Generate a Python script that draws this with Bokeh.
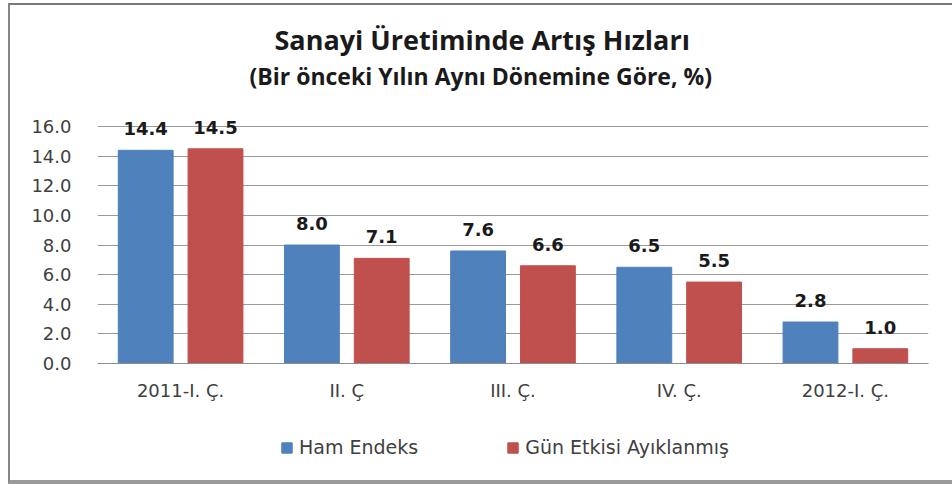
from bokeh.plotting import figure
from bokeh.layouts import column
from bokeh.models import (ColumnDataSource, FactorRange, Legend, LegendItem, LabelSet, Title,
                          NumeralTickFormatter, FixedTicker, Range1d, InlineStyleSheet)
from bokeh.core.properties import value
from bokeh.transform import dodge
from bokeh.embed import file_html
from bokeh.resources import INLINE

categories = ["2011-I. Ç.", "II. Ç", "III. Ç.", "IV. Ç.", "2012-I. Ç."]
ham_endeks = [14.4, 8.0, 7.6, 6.5, 2.8]
gun_etkisi = [14.5, 7.1, 6.6, 5.5, 1.0]
series_names = ["Ham Endeks", "Gün Etkisi Ayıklanmış"]
y_ticks = [0, 2, 4, 6, 8, 10, 12, 14, 16]

BLUE, RED = "#4F81BD", "#C0504D"
lab_font = "DejaVu Sans"

src = ColumnDataSource(dict(
    cat=categories,
    ham=ham_endeks,
    gun=gun_etkisi,
    ham_lbl=[f"{v:.1f}" for v in ham_endeks],
    gun_lbl=[f"{v:.1f}" for v in gun_etkisi],
))

p = figure(x_range=FactorRange(*categories), y_range=Range1d(0, 18.37),
           width=952, height=410, output_backend="svg", toolbar_location=None,
           title=None, min_border_left=97, min_border_right=24,
           min_border_bottom=47, min_border_top=91)
p.outline_line_color = None
p.background_fill_color = "white"
p.border_fill_color = "white"

p.vbar(x=dodge("cat", -0.21, range=p.x_range), top="ham", width=0.33, source=src,
       fill_color=BLUE, line_color=BLUE)
p.vbar(x=dodge("cat", 0.21, range=p.x_range), top="gun", width=0.33, source=src,
       fill_color=RED, line_color=RED)

for xo, col, lbl in ((-0.21, "ham", "ham_lbl"), (0.21, "gun", "gun_lbl")):
    p.add_layout(LabelSet(x=dodge("cat", xo, range=p.x_range), y=col, text=lbl, source=src,
                          text_align="center", text_baseline="bottom", y_offset=15,
                          text_font=value(lab_font), text_font_style="bold",
                          text_font_size="18px", text_color="#1a1a1a"))

p.yaxis.ticker = FixedTicker(ticks=y_ticks)
p.yaxis.formatter = NumeralTickFormatter(format="0.0")
p.yaxis.axis_line_color = None
p.yaxis.major_tick_line_color = None
p.yaxis.minor_tick_line_color = None
p.yaxis.major_label_standoff = 20
p.yaxis.major_label_text_font = lab_font
p.yaxis.major_label_text_font_size = "18px"
p.yaxis.major_label_text_color = "#404040"

p.xaxis.axis_line_color = "#8c8c8c"
p.xaxis.major_tick_line_color = None
p.xaxis.minor_tick_line_color = None
p.xaxis.major_label_standoff = 10
p.xaxis.major_label_text_font = lab_font
p.xaxis.major_label_text_font_size = "18px"
p.xaxis.major_label_text_color = "#404040"

p.xgrid.grid_line_color = None
p.ygrid.grid_line_color = "#9a9a9a"
p.ygrid.grid_line_width = 1
p.x_range.range_padding = 0
p.x_range.group_padding = 0

p.add_layout(Title(text="(Bir önceki Yılın Aynı Dönemine Göre, %)", align="left",
                   text_font="Open Sans", text_font_style="bold", text_font_size="23px",
                   text_color="#1a1a1a", standoff=0, offset=152), "above")
p.add_layout(Title(text="Sanayi Üretiminde Artış Hızları", align="left",
                   text_font="Open Sans", text_font_style="bold", text_font_size="27px",
                   text_color="#1a1a1a", standoff=0, offset=177), "above")

# legend strip below the chart (series keys drawn from the same data, hidden)
lp = figure(width=952, height=76, output_backend="svg", toolbar_location=None,
            x_axis_type=None, y_axis_type=None, min_border=0,
            x_range=Range1d(0, 1), y_range=Range1d(0, 1))
lp.outline_line_color = None
lp.xgrid.grid_line_color = None
lp.ygrid.grid_line_color = None
lp.border_fill_color = "white"
k1 = lp.vbar(x="ham", top="ham", width=0.1, source=src, fill_color=BLUE, line_color=BLUE, visible=False)
k2 = lp.vbar(x="gun", top="gun", width=0.1, source=src, fill_color=RED, line_color=RED, visible=False)
legend = Legend(items=[LegendItem(label=series_names[0], renderers=[k1]),
                       LegendItem(label=series_names[1], renderers=[k2])],
                orientation="horizontal", location=(183, 28), border_line_color=None,
                background_fill_alpha=0, spacing=88, glyph_width=13, glyph_height=13,
                label_text_font=lab_font, label_text_font_size="19px",
                label_text_color="#404040", label_standoff=6, margin=0, padding=4,
                inactive_fill_alpha=0)
lp.add_layout(legend, "center")

frame_css = InlineStyleSheet(css="""
:host { position: relative; }
:host::after {
  content: ""; position: absolute; left: 8px; top: 3px; right: -20px; bottom: 2px;
  border-left: 2px solid #858585; border-top: 2px solid #7a7a7a; border-bottom: 4px solid #9a9a9a;
  pointer-events: none; z-index: 10;
}
""")
layout = column(p, lp, spacing=0, stylesheets=[frame_css])
open("out.html", "w").write(file_html(layout, INLINE))
